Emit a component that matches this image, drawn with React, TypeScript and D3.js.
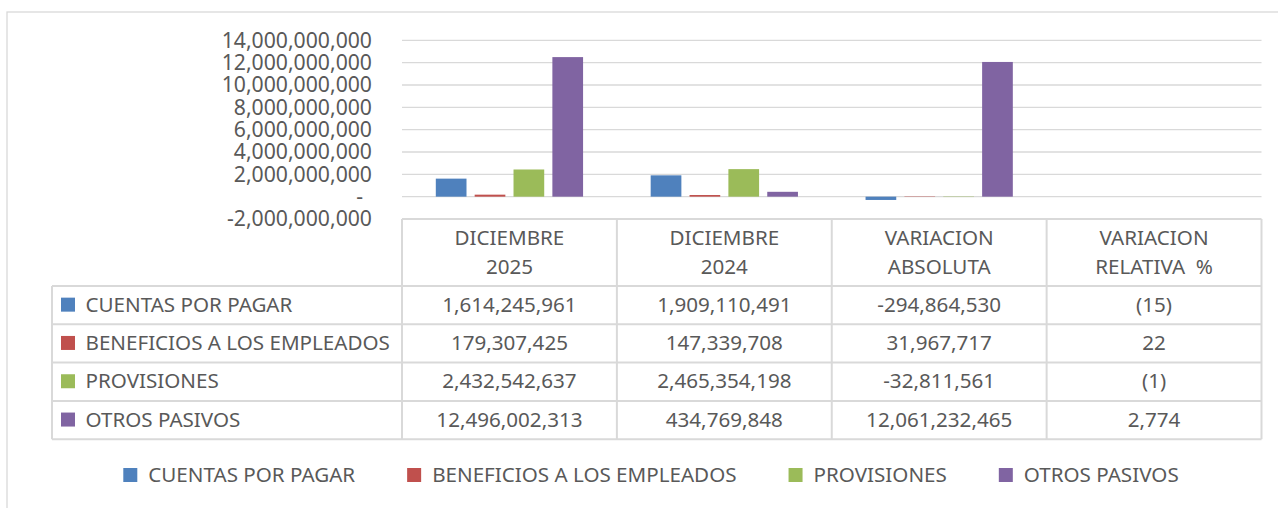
import React, { useEffect, useRef } from 'react';
import * as d3 from 'd3';

// categories (columns of the data table)
const categories = ['DICIEMBRE 2025', 'DICIEMBRE 2024', 'VARIACION ABSOLUTA', 'VARIACION RELATIVA %'];
const headerLines = [['DICIEMBRE', '2025'], ['DICIEMBRE', '2024'], ['VARIACION', 'ABSOLUTA'], ['VARIACION', 'RELATIVA  %']];

const seriesNames = ['CUENTAS POR PAGAR', 'BENEFICIOS A LOS EMPLEADOS', 'PROVISIONES', 'OTROS PASIVOS'];
const seriesColors = ['#4f81bd', '#c0504d', '#9bbb59', '#8064a2'];

const cuentasPorPagar = [1614245961, 1909110491, -294864530, -15];
const beneficiosEmpleados = [179307425, 147339708, 31967717, 22];
const provisiones = [2432542637, 2465354198, -32811561, -1];
const otrosPasivos = [12496002313, 434769848, 12061232465, 2774];
const seriesValues = [cuentasPorPagar, beneficiosEmpleados, provisiones, otrosPasivos];

const yTicks = [-2e9, 0, 2e9, 4e9, 6e9, 8e9, 10e9, 12e9, 14e9];

const FONT = '"Noto Sans", "Open Sans", sans-serif';
const FS = 20.6;
const TEXT = '#595959';
const GRID = '#d9d9d9';

// hyphen-minus like Excel, not the unicode minus d3 uses by default
const locale = d3.formatLocale({ decimal: '.', thousands: ',', grouping: [3], currency: ['$', ''], minus: '-' });
const fmt = locale.format(',');
const fmtPct = (v: number) => (v < 0 ? `(${fmt(-v)})` : fmt(v));

export default function App() {
  const svgRef = useRef<SVGSVGElement | null>(null);

  useEffect(() => {
    if (!svgRef.current) return;
    const svg = d3.select(svgRef.current);
    svg.selectAll('*').remove();

    const width = 1278;
    const plot = { left: 402, right: 1261.5, top: 40.3, bottom: 219 };
    const headerBottom = 286;
    const rowH = 38.3;
    const tableLeft = 52;

    // chart area border
    svg.append('rect')
      .attr('x', 7).attr('y', 12)
      .attr('width', width + 20).attr('height', 600)
      .attr('fill', '#fff').attr('stroke', GRID).attr('stroke-width', 1.3);

    const x = d3.scaleBand<string>().domain(categories).range([plot.left, plot.right]).padding(0);
    const xs = d3.scaleBand<string>().domain(seriesNames).range([0, x.bandwidth()])
      .paddingInner(0.21).paddingOuter(0.87);
    const y = d3.scaleLinear().domain([-2e9, 14e9]).range([plot.bottom, plot.top]);

    // gridlines
    svg.append('g').selectAll('line')
      .data(yTicks.filter(t => t > -2e9))
      .join('line')
      .attr('x1', plot.left).attr('x2', plot.right)
      .attr('y1', d => y(d)).attr('y2', d => y(d))
      .attr('stroke', GRID).attr('stroke-width', 1.3);

    // y tick labels (accounting format: zero shows as "-")
    svg.append('g').selectAll('text')
      .data(yTicks)
      .join('text')
      .attr('x', d => (d === 0 ? 363 : 372))
      .attr('y', d => y(d))
      .attr('dy', '0.35em')
      .attr('text-anchor', 'end')
      .attr('font-family', FONT).attr('font-size', 21.2).attr('fill', TEXT)
      .text(d => (d === 0 ? '-' : fmt(d)));

    // bars
    seriesNames.forEach((s, si) => {
      svg.append('g').selectAll('rect')
        .data(seriesValues[si])
        .join('rect')
        .attr('x', (_, i) => x(categories[i])! + xs(s)!)
        .attr('width', xs.bandwidth())
        .attr('y', d => y(Math.max(0, d)))
        .attr('height', d => Math.abs(y(d) - y(0)))
        .attr('fill', seriesColors[si]);
    });

    // data table
    const tbl = svg.append('g');
    const rowY = (i: number) => headerBottom + i * rowH;
    const colEdges = categories.map(c => x(c)!).concat([plot.right]);
    const hLines = [
      { y: plot.bottom, x1: plot.left, x2: plot.right },
      ...d3.range(5).map(i => ({ y: rowY(i), x1: tableLeft, x2: plot.right })),
    ];
    tbl.selectAll('line.h').data(hLines).join('line')
      .attr('x1', d => d.x1).attr('x2', d => d.x2)
      .attr('y1', d => d.y).attr('y2', d => d.y)
      .attr('stroke', GRID).attr('stroke-width', 2);
    tbl.selectAll('line.v').data(colEdges).join('line')
      .attr('x1', d => d).attr('x2', d => d)
      .attr('y1', plot.bottom).attr('y2', rowY(4))
      .attr('stroke', GRID).attr('stroke-width', 2);
    tbl.append('line')
      .attr('x1', tableLeft).attr('x2', tableLeft)
      .attr('y1', rowY(0)).attr('y2', rowY(4))
      .attr('stroke', GRID).attr('stroke-width', 2);

    // header cells
    headerLines.forEach((lines, ci) => {
      const cx = x(categories[ci])! + x.bandwidth() / 2;
      lines.forEach((ln, li) => {
        tbl.append('text')
          .attr('x', cx).attr('y', 238 + li * 28.7)
          .attr('dy', '0.35em')
          .attr('text-anchor', 'middle')
          .style('white-space', 'pre')
          .attr('font-family', FONT).attr('font-size', FS).attr('fill', TEXT)
          .text(ln);
      });
    });

    seriesNames.forEach((s, si) => {
      const cy = rowY(si) + rowH / 2 - 0.5;
      tbl.append('rect')
        .attr('x', 61).attr('y', cy - 7)
        .attr('width', 14).attr('height', 14)
        .attr('fill', seriesColors[si]);
      tbl.append('text')
        .attr('x', 85.5).attr('y', cy).attr('dy', '0.35em')
        .attr('font-family', FONT).attr('font-size', FS).attr('fill', TEXT)
        .text(s);
      seriesValues[si].forEach((v, ci) => {
        tbl.append('text')
          .attr('x', x(categories[ci])! + x.bandwidth() / 2)
          .attr('y', cy).attr('dy', '0.35em')
          .attr('text-anchor', 'middle')
          .attr('font-family', FONT).attr('font-size', FS).attr('fill', TEXT)
          .text(ci === 3 ? fmtPct(v) : fmt(v));
      });
    });

    // legend
    const legend = svg.append('g');
    const items = seriesNames.map((s, si) => {
      const g = legend.append('g');
      g.append('rect').attr('x', 0).attr('y', 475 - 7).attr('width', 14).attr('height', 14)
        .attr('fill', seriesColors[si]);
      const t = g.append('text')
        .attr('x', 25).attr('y', 475).attr('dy', '0.35em')
        .attr('font-family', FONT).attr('font-size', FS).attr('fill', TEXT)
        .text(s);
      const w = (t.node() as SVGTextElement).getComputedTextLength();
      return { g, w: 25 + w };
    });
    const gap = 52;
    const total = d3.sum(items, d => d.w) + gap * (items.length - 1);
    let cursor = 651 - total / 2;
    items.forEach(it => {
      it.g.attr('transform', `translate(${cursor},0)`);
      cursor += it.w + gap;
    });
  }, []);

  return (
    <svg
      ref={svgRef}
      width={1278}
      height={508}
      style={{ position: 'absolute', left: 0, top: 0, background: '#fff' }}
    />
  );
}
